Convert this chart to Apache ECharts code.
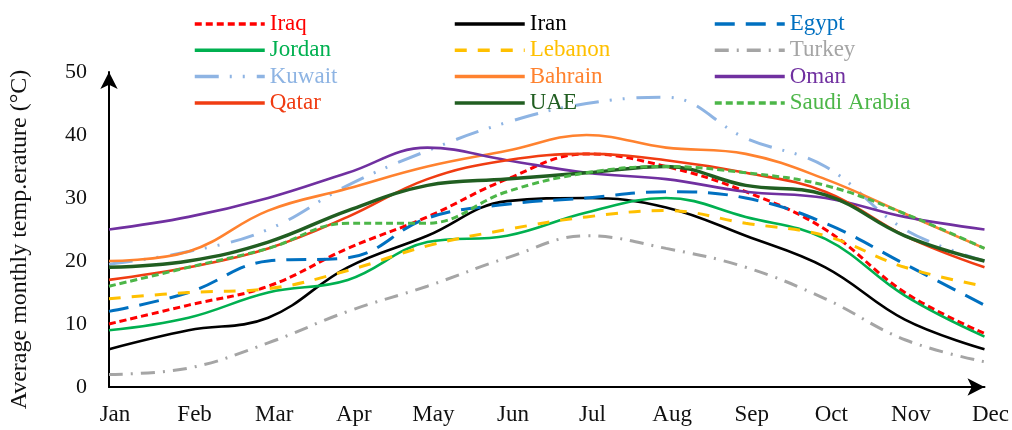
<!DOCTYPE html>
<html>
<head>
<meta charset="utf-8">
<script src="https://cdn.jsdelivr.net/npm/echarts@6/dist/echarts.min.js"></script>
<style>html,body{margin:0;padding:0;background:#fff}#c{width:1012px;height:430px}</style>
</head>
<body>
<div id="c"></div>
<script>
const months = ['Jan','Feb','Mar','Apr','May','Jun','Jul','Aug','Sep','Oct','Nov','Dec'];
const yTicks = [0, 10, 20, 30, 40, 50];

const iraq    = [10, 13, 16, 22, 27, 33, 37, 35, 31, 25, 15, 8.5];
const iran    = [6, 9, 11, 19, 24, 29.5, 30, 28.5, 24, 19, 10.7, 6];
const egypt   = [12, 15, 20, 20.5, 26.8, 29, 30, 31, 30, 26, 19.5, 13];
const jordan  = [9, 11, 15, 17, 23, 24, 27.7, 30, 27, 23.5, 14.5, 8];
const lebanon = [14, 15, 15.6, 18.5, 22.4, 25, 27, 28, 26, 24, 19, 16];
const turkey  = [2, 3, 7, 12, 16, 20.5, 24, 22, 19, 14, 7.5, 4];
const kuwait  = [19.5, 21.5, 25, 32, 37.5, 42, 45, 46, 39.5, 35, 25, 20];
const bahrain = [20, 21.5, 28, 31.5, 35, 37.5, 40, 38, 37, 33, 27.5, 22];
const oman    = [25, 27, 30, 34, 38, 36, 34, 33, 31, 30, 27, 25];
const qatar   = [17, 19, 22, 27, 33, 36, 37, 36, 34, 31, 24, 19];
const uae     = [19, 20, 23, 28, 32, 33, 34, 35, 32, 30.5, 24, 20];
const saudi   = [16, 19, 22, 26, 26, 31, 34, 35, 34, 32, 27.5, 22];

const FONT = 'Liberation Serif';

const defs = [
  {name:'Iraq', data:iraq, color:'#FF0000', type:[7,4], width:3},
  {name:'Iran', data:iran, color:'#000000', type:'solid', width:2.6},
  {name:'Egypt', data:egypt, color:'#0070C0', type:[20,11], width:3},
  {name:'Jordan', data:jordan, color:'#00B050', type:'solid', width:2.6},
  {name:'Lebanon', data:lebanon, color:'#FFC000', type:[12,11], width:3},
  {name:'Turkey', data:turkey, color:'#A5A5A5', type:[14,8,2,8], width:3},
  {name:'Kuwait', data:kuwait, color:'#8EB4E3', type:[24,11,2,11,2,12], width:3},
  {name:'Bahrain', data:bahrain, color:'#FF822F', type:'solid', width:2.6},
  {name:'Oman', data:oman, color:'#7030A0', type:'solid', width:2.6},
  {name:'Qatar', data:qatar, color:'#F03C12', type:'solid', width:2.6},
  {name:'UAE', data:uae, color:'#215E21', type:'solid', width:3.5},
  {name:'Saudi Arabia', data:saudi, color:'#4CB648', type:[7,4], width:3}
];

const colorOf = {};
defs.forEach(d => colorOf[d.name] = d.color);

function legendCol(names, left) {
  return {
    orient: 'vertical',
    left: left,
    top: 6,
    itemWidth: 70,
    itemHeight: 14,
    itemGap: 0.3,
    selectedMode: false,
    itemStyle: {opacity: 0},
    lineStyle: {width: 3.5},
    textStyle: {fontFamily: FONT, fontSize: 23, lineHeight: 26},
    data: names.map(n => ({name: n, textStyle: {color: colorOf[n]}}))
  };
}

const chart = echarts.init(document.getElementById('c'), null, {renderer: 'canvas'});
chart.setOption({
  animation: false,
  backgroundColor: '#fff',
  legend: [
    legendCol(['Iraq','Jordan','Kuwait','Qatar'], 188),
    legendCol(['Iran','Lebanon','Bahrain','UAE'], 448),
    legendCol(['Egypt','Turkey','Oman','Saudi Arabia'], 708)
  ],
  grid: {left: 107, right: 25, top: 72, bottom: 43, containLabel: false},
  xAxis: {
    type: 'category',
    data: months,
    boundaryGap: false,
    axisLine: {show: true, symbol: ['none','arrow'], symbolSize: [13, 17], lineStyle: {color: '#000', width: 2}},
    axisTick: {show: false},
    splitLine: {show: false},
    axisLabel: {fontFamily: FONT, fontSize: 23, color: '#111', margin: 16, padding: [0,0,0,12]}
  },
  yAxis: {
    type: 'value',
    min: yTicks[0],
    max: yTicks[yTicks.length-1],
    interval: 10,
    name: 'Average monthly temp.erature (°C)',
    nameLocation: 'middle',
    nameGap: 77,
    nameTextStyle: {fontFamily: FONT, fontSize: 24, color: '#111', padding: [0,0,0,-20]},
    axisLine: {show: true, symbol: ['none','arrow'], symbolSize: [13, 17], lineStyle: {color: '#000', width: 2}},
    axisTick: {show: false},
    splitLine: {show: false},
    axisLabel: {fontFamily: FONT, fontSize: 22, color: '#111', margin: 22}
  },
  series: defs.map(d => ({
    name: d.name,
    type: 'line',
    data: d.data,
    smooth: 0.4,
    showSymbol: false,
    symbol: 'none',
    color: d.color,
    lineStyle: {color: d.color, width: d.width, type: d.type},
    emphasis: {disabled: true}
  }))
});
</script>
</body>
</html>
